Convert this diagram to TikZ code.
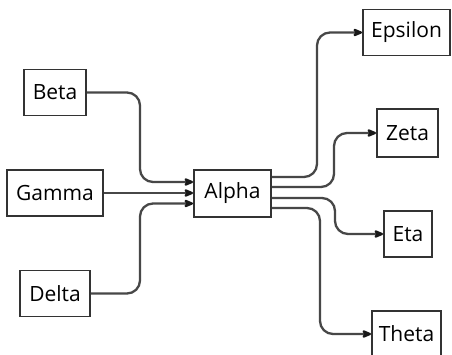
\documentclass[tikz,border=0pt]{standalone}
\usepackage{fontspec}
\setmainfont{Open Sans}
\usetikzlibrary{arrows.meta}
\begin{document}
\begin{tikzpicture}[x=1pt,y=-1pt,
  box/.style={draw=black!80, line width=1.9pt, fill=white, inner sep=0pt,
    minimum height=46pt, font=\fontsize{21}{22}\selectfont, text=black},
  conn/.style={draw=black!72, line width=2.3pt, rounded corners=13pt,
    -{Stealth[length=12pt,width=10pt,inset=3.5pt,round,color=black!90]}}]
\useasboundingbox[fill=white] (0,0) rectangle (452,354);
\node[box, minimum width=62pt] (beta) at (55,92.5) {Beta};
\node[box, minimum width=96pt] (gamma) at (55,193) {Gamma};
\node[box, minimum width=70pt] (delta) at (55,293.5) {Delta};
\node[box, minimum width=77pt, minimum height=47pt] (alpha) at (232.5,193.5) {Alpha};
\node[box, minimum width=87pt] (epsilon) at (406.5,32.5) {Epsilon};
\node[box, minimum width=61pt, minimum height=48pt] (zeta) at (407.5,133) {Zeta};
\node[box, minimum width=48pt] (eta) at (408,234) {Eta};
\node[box, minimum width=69pt] (theta) at (406.5,334) {Theta};
% incoming
\draw[conn] (beta.east) -- (140,92.5) -- (140,182) -- (alpha.west |- 0,182);
\draw[conn] (gamma.east) -- (alpha.west |- 0,193);
\draw[conn] (delta.east) -- (140,293.5) -- (140,203.5) -- (alpha.west |- 0,203.5);
% outgoing
\draw[conn] (alpha.east |- 0,177) -- (317,177) -- (317,32.5) -- (epsilon.west);
\draw[conn] (alpha.east |- 0,187) -- (334,187) -- (334,133) -- (zeta.west);
\draw[conn] (alpha.east |- 0,198) -- (335,198) -- (335,234) -- (eta.west);
\draw[conn] (alpha.east |- 0,208) -- (320,208) -- (320,334) -- (theta.west);
\end{tikzpicture}
\end{document}
